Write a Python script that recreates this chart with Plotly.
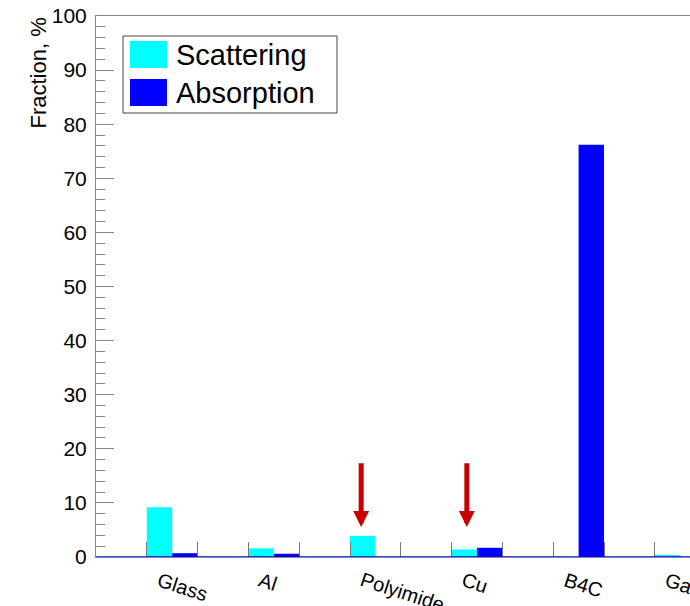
import plotly.graph_objects as go

materials = ["Glass", "Al", "Polyimide", "Cu", "B4C", "Gas"]
scattering = [9.2, 1.6, 3.9, 1.4, 0.0, 0.25]
absorption = [0.7, 0.6, 0.0, 1.7, 76.2, 0.0]
arrow_materials = ["Polyimide", "Cu"]

W, H = 690, 606
ML, MR, MT, MB = 96, 0, 16, 49
PW, PH = W - ML - MR, H - MT - MB
BIN = 50.8  # px per bin
XMAX = PW / BIN

def px2x(px):
    return (px - ML) / PW

def px2y(py):
    return 1 - (py - MT) / PH

FONT = "Liberation Sans, Arial, Helvetica, sans-serif"

x_s = [2 * i + 1.25 for i in range(len(materials))]
x_a = [2 * i + 1.75 for i in range(len(materials))]

fig = go.Figure()
fig.add_trace(go.Bar(x=x_s, y=scattering, width=0.5, marker=dict(color="#00FFFF", line=dict(width=0)),
                     name="Scattering", showlegend=False))
fig.add_trace(go.Bar(x=x_a, y=absorption, width=0.5, marker=dict(color="#0000FF", line=dict(width=0)),
                     name="Absorption", showlegend=False))

annotations = []
# category labels
for i, m in enumerate(materials):
    annotations.append(dict(text=m, x=2 * i + 1 + 5.5 / BIN, xref="x", y=px2y(566), yref="paper",
                            xanchor="left", yanchor="top", textangle=18, showarrow=False,
                            font=dict(family=FONT, size=20, color="black")))
# y title
annotations.append(dict(text="Fraction, %", x=px2x(38), xref="paper", y=1.0, yref="paper",
                        xanchor="center", yanchor="top", textangle=-90, showarrow=False,
                        font=dict(family=FONT, size=22, color="black")))
# red arrows
for m, dx in zip(arrow_materials, [-0.03, 0.05]):
    i = materials.index(m)
    xc = x_s[i] + dx
    annotations.append(dict(x=xc, y=5.55, xref="x", yref="y", ax=xc, ay=17.6, axref="x", ayref="y",
                            showarrow=True, arrowhead=2, arrowsize=0.64, arrowwidth=5,
                            arrowcolor="#C80000", text=""))
# legend texts
annotations.append(dict(text="Scattering", x=px2x(174), y=px2y(54.5), xref="paper", yref="paper",
                        xanchor="left", yanchor="middle", showarrow=False,
                        font=dict(family=FONT, size=29, color="black")))
annotations.append(dict(text="Absorption", x=px2x(174), y=px2y(92.5), xref="paper", yref="paper",
                        xanchor="left", yanchor="middle", showarrow=False,
                        font=dict(family=FONT, size=29, color="black")))

shapes = [
    # baseline
    dict(type="line", xref="paper", yref="y", x0=0, x1=1, y0=0, y1=0,
         line=dict(color="#0000FF", width=1.5), layer="above"),
    # legend box
    dict(type="rect", xref="paper", yref="paper", x0=px2x(123), x1=px2x(337), y0=px2y(113), y1=px2y(36),
         line=dict(color="#444444", width=1), fillcolor="white", layer="above"),
    dict(type="rect", xref="paper", yref="paper", x0=px2x(130), x1=px2x(167), y0=px2y(68), y1=px2y(41),
         line=dict(width=0), fillcolor="#00FFFF", layer="above"),
    dict(type="rect", xref="paper", yref="paper", x0=px2x(130), x1=px2x(167), y0=px2y(106), y1=px2y(79),
         line=dict(width=0), fillcolor="#0000FF", layer="above"),
]

fig.update_layout(
    width=W, height=H,
    margin=dict(l=ML, r=MR, t=MT, b=MB, pad=0, autoexpand=False),
    paper_bgcolor="white", plot_bgcolor="white",
    showlegend=False, barmode="overlay",
    annotations=annotations, shapes=shapes,
    xaxis=dict(range=[0, XMAX], tickvals=list(range(1, 12)), ticks="inside", ticklen=15,
               tickcolor="#777777", tickwidth=1, showticklabels=False, showgrid=False,
               zeroline=False, showline=True, linecolor="#888888", linewidth=1, mirror=True),
    yaxis=dict(range=[0, 100], dtick=10, ticks="inside", ticklen=18, tickcolor="#888888",
               tickwidth=1, showgrid=False, zeroline=False, showline=True, linecolor="#888888",
               linewidth=1, ticklabelstandoff=4,
               tickfont=dict(family=FONT, size=21, color="black"),
               minor=dict(dtick=2, ticks="inside", ticklen=9, tickcolor="#888888", showgrid=False)),
)

fig.write_html("out.html")
